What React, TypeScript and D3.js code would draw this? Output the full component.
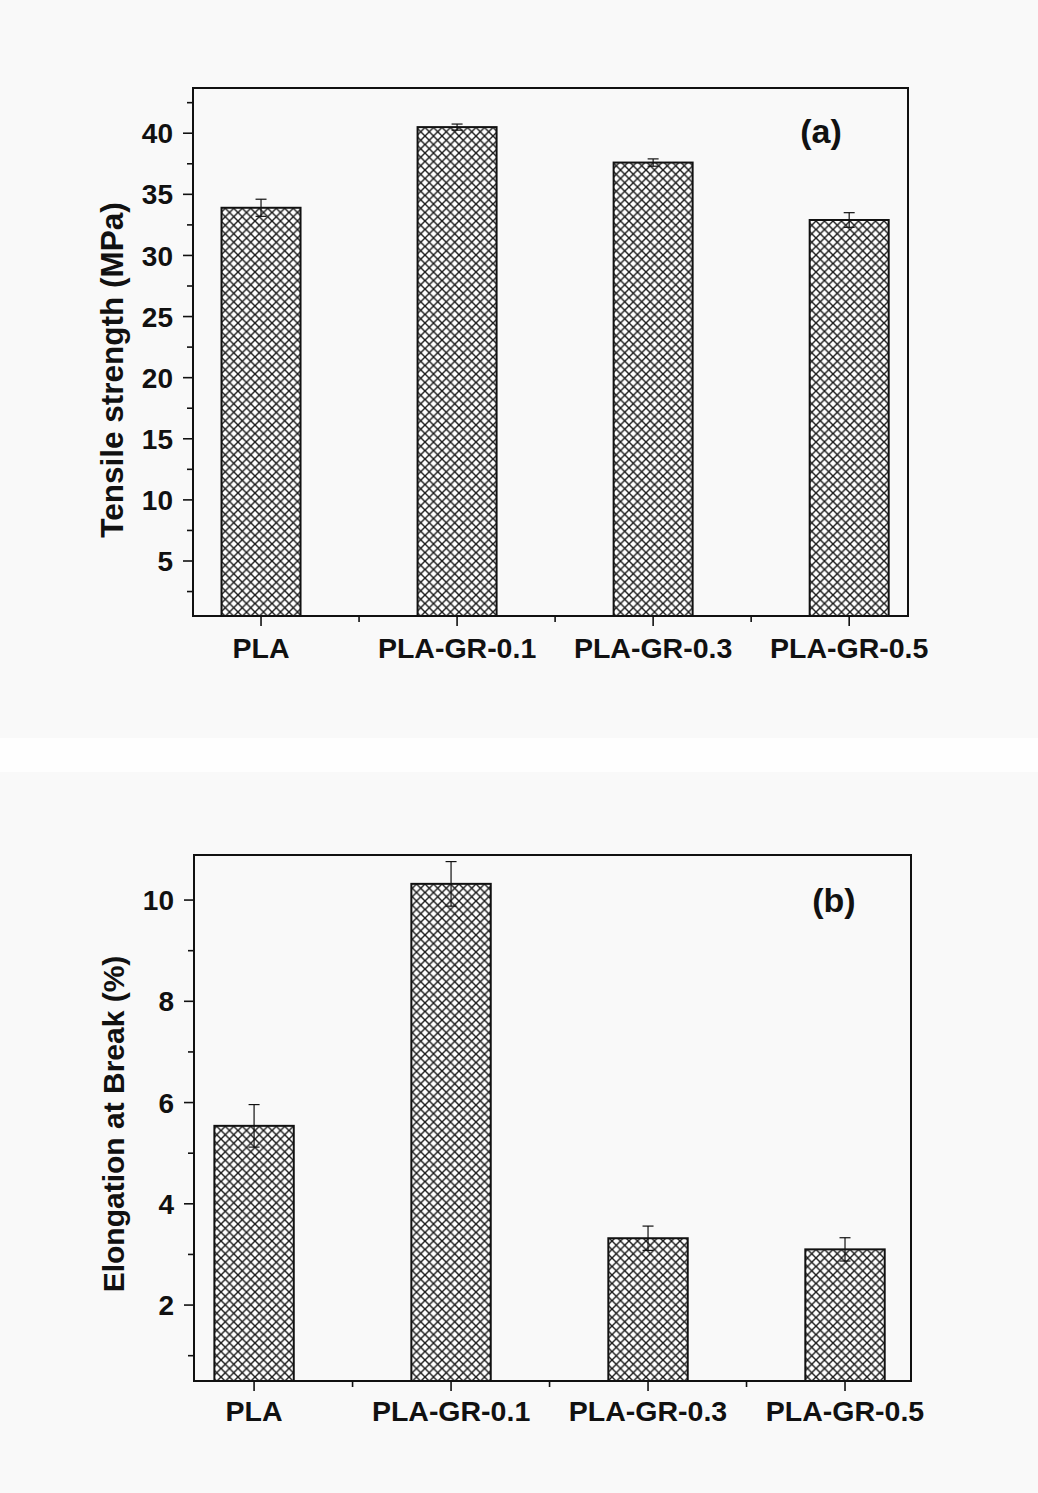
import React from "react";
import * as d3 from "d3";

const categories = ["PLA", "PLA-GR-0.1", "PLA-GR-0.3", "PLA-GR-0.5"];
const tensileValues = [33.9, 40.5, 37.6, 32.9];
const tensileErrors = [0.7, 0.25, 0.3, 0.6];
const elongValues = [5.54, 10.32, 3.32, 3.1];
const elongErrors = [0.42, 0.44, 0.24, 0.23];
const tensileTicks = [5, 10, 15, 20, 25, 30, 35, 40];
const tensileMinor = [2.5, 7.5, 12.5, 17.5, 22.5, 27.5, 32.5, 37.5, 42.5];
const elongTicks = [2, 4, 6, 8, 10];
const elongMinor = [1, 3, 5, 7, 9];

const FONT = "'Liberation Sans', Arial, Helvetica, sans-serif";

type PanelProps = {
  id: string;
  left: number;
  right: number;
  top: number;
  bottom: number;
  xDomain: [number, number];
  yDomain: [number, number];
  values: number[];
  errors: number[];
  ticks: number[];
  minor: number[];
  title: string;
  titleX: number;
  titleY: number;
  titleSize: number;
  tag: string;
  tagX: number;
  tagY: number;
  catBaseline: number;
};

function Panel(p: PanelProps) {
  const x = d3.scaleLinear().domain(p.xDomain).range([p.left, p.right]);
  const y = d3.scaleLinear().domain(p.yDomain).range([p.bottom, p.top]);
  const step = x(2) - x(1);
  const bw = step * 0.403;
  const capW = 11;
  return (
    <g>
      {categories.map((c, i) => {
        const cx = x(i + 1);
        const v = p.values[i];
        const e = p.errors[i];
        return (
          <g key={c}>
            <rect x={cx - bw / 2} y={y(v)} width={bw} height={p.bottom - y(v)} fill="#ffffff" />
            <rect
              x={cx - bw / 2}
              y={y(v)}
              width={bw}
              height={p.bottom - y(v)}
              fill={`url(#hatch-${p.id})`}
              stroke="#111"
              strokeWidth={2}
            />
            <line x1={cx} x2={cx} y1={y(v - e)} y2={y(v + e)} stroke="#111" strokeWidth={1.2} />
            <line x1={cx - capW / 2} x2={cx + capW / 2} y1={y(v + e)} y2={y(v + e)} stroke="#111" strokeWidth={1.2} />
            <line x1={cx - capW / 2} x2={cx + capW / 2} y1={y(v - e)} y2={y(v - e)} stroke="#111" strokeWidth={1.2} />
          </g>
        );
      })}
      <rect
        x={p.left}
        y={p.top}
        width={p.right - p.left}
        height={p.bottom - p.top}
        fill="none"
        stroke="#111"
        strokeWidth={2}
      />
      {p.ticks.map((t) => (
        <g key={`t${t}`}>
          <line x1={p.left - 10} x2={p.left} y1={y(t)} y2={y(t)} stroke="#111" strokeWidth={1.6} />
          <text
            x={p.left - 20}
            y={y(t)}
            dy="0.36em"
            textAnchor="end"
            fontFamily={FONT}
            fontWeight="bold"
            fontSize={28}
            fill="#111"
          >
            {t}
          </text>
        </g>
      ))}
      {p.minor.map((t) => (
        <line key={`m${t}`} x1={p.left - 6} x2={p.left} y1={y(t)} y2={y(t)} stroke="#111" strokeWidth={1.6} />
      ))}
      {categories.map((c, i) => (
        <g key={`c${c}`}>
          <line x1={x(i + 1)} x2={x(i + 1)} y1={p.bottom} y2={p.bottom + 10} stroke="#111" strokeWidth={1.6} />
          <text
            x={x(i + 1)}
            y={p.catBaseline}
            textAnchor="middle"
            fontFamily={FONT}
            fontWeight="bold"
            fontSize={28.5}
            fill="#111"
          >
            {c}
          </text>
        </g>
      ))}
      {[1.5, 2.5, 3.5].map((m) => (
        <line key={`xm${m}`} x1={x(m)} x2={x(m)} y1={p.bottom} y2={p.bottom + 6} stroke="#111" strokeWidth={1.6} />
      ))}
      <text
        transform={`translate(${p.titleX},${p.titleY}) rotate(-90)`}
        textAnchor="middle"
        fontFamily={FONT}
        fontWeight="bold"
        fontSize={p.titleSize}
        fill="#111"
      >
        {p.title}
      </text>
      <text
        x={p.tagX}
        y={p.tagY}
        textAnchor="middle"
        fontFamily={FONT}
        fontWeight="bold"
        fontSize={34}
        fill="#111"
      >
        {p.tag}
      </text>
    </g>
  );
}

export default function App() {
  const W = 1038;
  const H = 1493;
  return (
    <svg
      width={W}
      height={H}
      style={{ position: "absolute", left: 0, top: 0 }}
      xmlns="http://www.w3.org/2000/svg"
    >
      <defs>
        {["a", "b"].map((id) => (
          <pattern key={id} id={`hatch-${id}`} width={8.5} height={8.5} patternUnits="userSpaceOnUse">
            <rect width={8.5} height={8.5} fill="#ffffff" />
            <path d="M0,0 L8.5,8.5 M-1,7.5 L1,9.5 M7.5,-1 L9.5,1" stroke="#1a1a1a" strokeWidth={1.4} />
            <path d="M0,8.5 L8.5,0 M-1,1 L1,-1 M7.5,9.5 L9.5,7.5" stroke="#1a1a1a" strokeWidth={1.4} />
          </pattern>
        ))}
      </defs>
      <rect width={W} height={H} fill="#f9f9f9" />
      <rect x={0} y={738} width={W} height={34} fill="#fefefe" />
      <Panel
        id="a"
        left={193}
        right={908}
        top={88}
        bottom={616}
        xDomain={[0.653, 4.3]}
        yDomain={[0.5, 43.7]}
        values={tensileValues}
        errors={tensileErrors}
        ticks={tensileTicks}
        minor={tensileMinor}
        title="Tensile strength (MPa)"
        titleX={123}
        titleY={370}
        titleSize={31.5}
        tag="(a)"
        tagX={821}
        tagY={143}
        catBaseline={658}
      />
      <Panel
        id="b"
        left={194}
        right={911}
        top={855}
        bottom={1381}
        xDomain={[0.695, 4.335]}
        yDomain={[0.5, 10.89]}
        values={elongValues}
        errors={elongErrors}
        ticks={elongTicks}
        minor={elongMinor}
        title="Elongation at Break (%)"
        titleX={124}
        titleY={1124}
        titleSize={30}
        tag="(b)"
        tagX={834}
        tagY={912}
        catBaseline={1421}
      />
    </svg>
  );
}
